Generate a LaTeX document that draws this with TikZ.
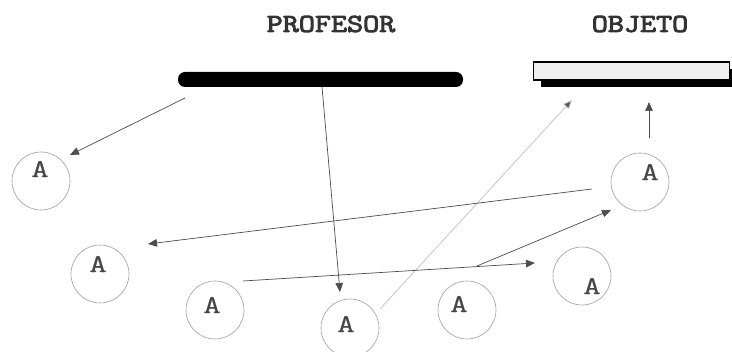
\documentclass[tikz,border=0pt]{standalone}
\usepackage{fontspec}
\usepackage{graphicx}
\setmonofont[AutoFakeBold=2.2]{Latin Modern Mono}
\newfontfamily\hdrfont[FakeBold=3.2]{Latin Modern Mono}
\newfontfamily\letfont[FakeBold=0.4]{Latin Modern Mono}
\newcommand{\hdrtext}[1]{\scalebox{1.2}[1]{#1}}
\newcommand{\lettext}[1]{\scalebox{1.3}[1]{#1}}
\usetikzlibrary{arrows.meta}
\tikzset{
  circ/.style={circle, draw=gray!75, line width=0.6pt, minimum size=58pt, inner sep=0pt},
  letter/.style={font=\fontsize{26}{26}\selectfont\letfont, text=gray!55!black, inner sep=0pt},
  header/.style={font=\fontsize{26}{26}\selectfont\hdrfont, text=black!80, inner sep=0pt},
  conn/.style={draw=gray!60!black, line width=0.7pt, -{Triangle[length=9pt,width=7.5pt]}},
  lightconn/.style={draw=gray!45, line width=0.8pt, -{Triangle[length=9pt,width=7.5pt,fill=gray!70!black]}},
}
\begin{document}
\begin{tikzpicture}[x=1pt,y=-1pt]
\useasboundingbox (0,0) rectangle (732,352);
\fill[white] (0,0) rectangle (732,352);

% headers
\node[header] (profT) at (331,24) {\hdrtext{PROFESOR}};
\node[header] (objT) at (640,24) {\hdrtext{OBJETO}};

% professor bar
\node[fill=black, rounded corners=7pt, minimum width=285pt, minimum height=15pt, inner sep=0pt] (prof) at (320.5,79.5) {};

% object box with shadow
\fill[black] (541,69) rectangle (736,87);
\node[draw=black, line width=1.3pt, fill=gray!12, minimum width=196pt, minimum height=18pt, inner sep=0pt] (obj) at (631.5,71) {};

% circles
\node[circ] (c1) at (41,181) {};
\node[circ] (c2) at (100,274) {};
\node[circ] (c3) at (215,310) {};
\node[circ] (c4) at (350,328) {};
\node[circ] (c5) at (467,310) {};
\node[circ] (c6) at (582,276) {};
\node[circ] (c7) at (640,182) {};

\node[letter] (l1) at (40,169) {\lettext{A}};
\node[letter] (l2) at (98,264) {\lettext{A}};
\node[letter] (l3) at (212,305) {\lettext{A}};
\node[letter] (l4) at (346,324) {\lettext{A}};
\node[letter] (l5) at (459,304) {\lettext{A}};
\node[letter] (l6) at (592,286) {\lettext{A}};
\node[letter] (l7) at (650,172) {\lettext{A}};

% connector end points
\coordinate (s1) at (185,98);
\coordinate (e1) at (70,155);
\coordinate (s2) at (322,87);
\coordinate (e2) at (340,292);
\coordinate (s3) at (243,281);
\coordinate (e3) at (535,263);
\coordinate (s4) at (477,266);
\coordinate (e4) at (611,210);
\coordinate (s5) at (592,189);
\coordinate (e5) at (148,244);
\coordinate (s6) at (380,309);
\coordinate (e6) at (572,100);
\coordinate (s7) at (649,138);
\coordinate (e7) at (649,102);

\draw[lightconn] (s6) -- (e6);
\draw[conn] (s1) -- (e1);
\draw[conn] (s2) -- (e2);
\draw[conn] (s3) -- (e3);
\draw[conn] (s4) -- (e4);
\draw[conn] (s5) -- (e5);
\draw[conn] (s7) -- (e7);
\end{tikzpicture}
\end{document}
